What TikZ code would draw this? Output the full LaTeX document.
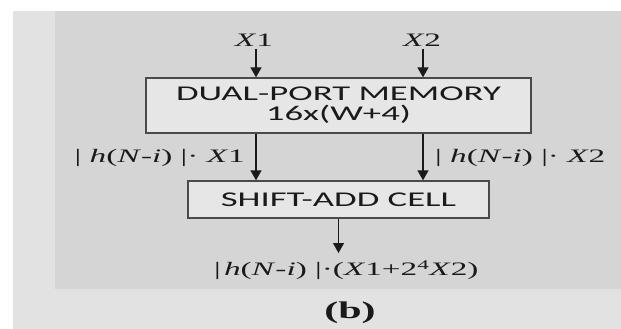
\documentclass[tikz,border=0pt]{standalone}
\usepackage{fontspec}
\usepackage{graphicx}
\usetikzlibrary{arrows.meta}
\newfontfamily\boxfont[FakeStretch=1.75]{Carlito}
\newfontfamily\mathfont[FakeStretch=1.75]{Liberation Serif}
\definecolor{outerbg}{HTML}{E2E2E2}
\definecolor{innerbg}{HTML}{D5D5D5}
\definecolor{boxfill}{HTML}{E6E6E6}
\definecolor{boxline}{HTML}{4A4A4A}
\definecolor{ink}{HTML}{1A1A1A}
\tikzset{
  blockbox/.style={draw=boxline, fill=boxfill, line width=1.3pt, inner sep=0pt,
    align=center, text=ink, font=\boxfont\fontsize{21}{20}\selectfont},
  lbl/.style={inner sep=0pt, text=ink, font=\mathfont\fontsize{19}{22}\selectfont},
  arr/.style={draw=ink, line width=1.3pt, -{Triangle[length=10pt,width=11pt]}},
}
\begin{document}
\begin{tikzpicture}[x=1pt,y=-1pt]
\useasboundingbox (0,0) rectangle (621,329);
\fill[white] (0,0) rectangle (621,329);
\fill[outerbg] (13,11) rectangle (621,329);
\fill[innerbg] (55,11) rectangle (621,289);
\node[blockbox, minimum width=385pt, minimum height=55pt] (mem) at (338.5,105.5) {DUAL-PORT MEMORY\\16x(W+4)};
\node[blockbox, minimum width=301pt, minimum height=37pt] (sac) at (338.5,199.5) {SHIFT-ADD CELL};
\node[lbl] (x1) at (254,40) {\textit{X}1};
\node[lbl] (x2) at (422,40) {\textit{X}2};
\coordinate (c1) at (256,49);
\coordinate (c2) at (423,49);
\node[lbl, anchor=east] (l1) at (245,158) {\textbar\ \textit{h}(\textit{N}-\textit{i})\ \textbar\textperiodcentered\ \textit{X}1};
\node[lbl, anchor=west] (l2) at (435,158) {\textbar\ \textit{h}(\textit{N}-\textit{i})\ \textbar\textperiodcentered\ \textit{X}2};
\node[lbl, anchor=west] (out) at (214,270) {\textbar\,\textit{h}(\textit{N}-\textit{i})\ \textbar\textperiodcentered(\textit{X}1+2\textsuperscript{4}\textit{X}2)};
\node[inner sep=0pt, text=ink, font=\mathfont\fontsize{24}{26}\selectfont\bfseries] (cap) at (350,313) {(b)};
\coordinate (o1) at (338.5,253);
\draw[arr] (c1) -- (c1 |- mem.north);
\draw[arr] (c2) -- (c2 |- mem.north);
\draw[arr] (c1 |- mem.south) -- (c1 |- sac.north);
\draw[arr] (c2 |- mem.south) -- (c2 |- sac.north);
\draw[arr] (sac.south) -- (o1);
\end{tikzpicture}
\end{document}
